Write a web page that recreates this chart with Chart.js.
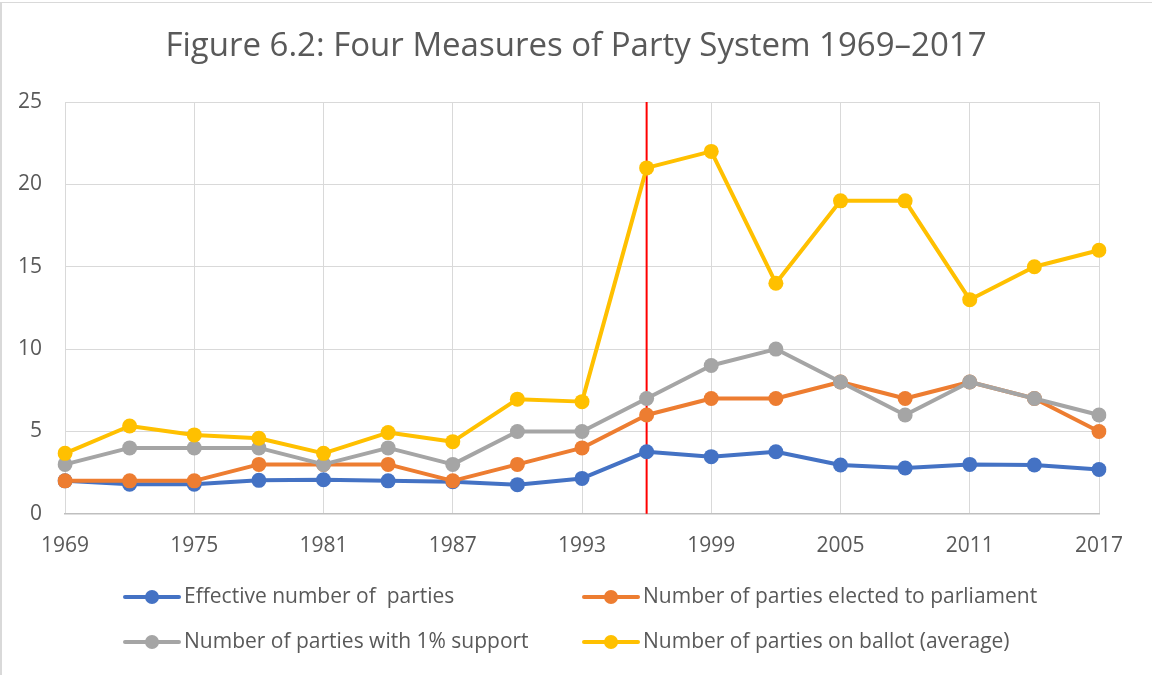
<!DOCTYPE html>
<html>
<head>
<meta charset="utf-8">
<script src="https://cdn.jsdelivr.net/npm/chart.js@4"></script>
<style>
  html, body { margin: 0; padding: 0; background: #fff; }
  #wrap { position: relative; width: 1152px; height: 675px; overflow: hidden; }
  #chart { position: absolute; left: 0; top: 0; }
  .edge-top { position: absolute; left: 0; top: 2px; width: 1152px; height: 1px; background: #d9d9d9; }
  .edge-left { position: absolute; left: 0; top: 2px; width: 2px; height: 673px; background: #d9d9d9; }
</style>
</head>
<body>
<div id="wrap">
  <canvas id="chart" width="1152" height="675"></canvas>
  <div class="edge-top"></div>
  <div class="edge-left"></div>
</div>
<script>
// Election years
const years = ['1969','1972','1975','1978','1981','1984','1987','1990','1993',
               '1996','1999','2002','2005','2008','2011','2014','2017'];

// Four measures of the party system
const effectiveParties = [2.0, 1.8, 1.8, 2.03, 2.07, 2.0, 1.95, 1.77, 2.15,
                          3.77, 3.47, 3.77, 2.96, 2.78, 3.0, 2.96, 2.69];
const electedParties   = [2, 2, 2, 3, 3, 3, 2, 3, 4, 6, 7, 7, 8, 7, 8, 7, 5];
const onePctParties    = [3, 4, 4, 4, 3, 4, 3, 5, 5, 7, 9, 10, 8, 6, 8, 7, 6];
const ballotParties    = [3.67, 5.33, 4.79, 4.59, 3.67, 4.93, 4.38, 6.96, 6.81,
                          21.0, 22.0, 14.0, 19.0, 19.0, 13.0, 15.0, 16.0];

const seriesNames = [
  'Effective number of  parties',
  'Number of parties elected to parliament',
  'Number of parties with 1% support',
  'Number of parties on ballot (average)'
];
const seriesColors = ['#4472C4', '#ED7D31', '#A5A5A5', '#FFC000'];
const seriesValues = [effectiveParties, electedParties, onePctParties, ballotParties];

const yTicks = { min: 0, max: 25, step: 5 };
const dividerYear = '1996';
const chartTitle = 'Figure 6.2: Four Measures of Party System 1969\u20132017';

const TEXT = '#595959';
const FONT = "'Open Sans', 'DejaVu Sans', sans-serif";

// Title centred across the whole canvas
const pageTitlePlugin = {
  id: 'pageTitle',
  afterDraw(chart) {
    const ctx = chart.ctx;
    ctx.save();
    ctx.font = "33px " + FONT;
    ctx.fillStyle = TEXT;
    ctx.textAlign = 'center';
    ctx.textBaseline = 'alphabetic';
    ctx.fillText(chartTitle, chart.width / 2, 56);
    ctx.restore();
  }
};

// Red vertical divider, drawn beneath the series
const dividerPlugin = {
  id: 'divider',
  beforeDatasetsDraw(chart) {
    const x = chart.scales.x.getPixelForValue(years.indexOf(dividerYear));
    const { top, bottom } = chart.chartArea;
    const ctx = chart.ctx;
    ctx.save();
    ctx.strokeStyle = '#FF0000';
    ctx.lineWidth = 2;
    ctx.beginPath();
    ctx.moveTo(x, top);
    ctx.lineTo(x, bottom);
    ctx.stroke();
    ctx.restore();
  }
};

// Two-column legend below the axis
const gridLegendPlugin = {
  id: 'gridLegend',
  afterDraw(chart) {
    const ctx = chart.ctx;
    const colX = [125, 584];
    const rowY = [597, 642];
    ctx.save();
    ctx.font = "21px " + FONT;
    ctx.textBaseline = 'middle';
    ctx.textAlign = 'left';
    chart.data.datasets.forEach((ds, i) => {
      const x0 = colX[i % 2];
      const y = rowY[Math.floor(i / 2)];
      ctx.strokeStyle = ds.borderColor;
      ctx.lineWidth = 4;
      ctx.lineCap = 'round';
      ctx.beginPath();
      ctx.moveTo(x0, y);
      ctx.lineTo(x0 + 54, y);
      ctx.stroke();
      ctx.fillStyle = ds.pointBackgroundColor;
      ctx.beginPath();
      ctx.arc(x0 + 27, y, 7, 0, Math.PI * 2);
      ctx.fill();
      ctx.fillStyle = TEXT;
      ctx.fillText(ds.label, x0 + 59, y);
    });
    ctx.restore();
  }
};

const datasets = seriesValues.map((vals, i) => ({
  label: seriesNames[i],
  data: vals,
  borderColor: seriesColors[i],
  backgroundColor: seriesColors[i],
  pointBackgroundColor: seriesColors[i],
  pointBorderColor: seriesColors[i],
  pointBorderWidth: 0,
  pointRadius: 7.5,
  pointHoverRadius: 7.5,
  borderWidth: 4,
  tension: 0,
  borderJoinStyle: 'round',
  order: seriesValues.length - i
}));

new Chart(document.getElementById('chart'), {
  type: 'line',
  data: { labels: years, datasets },
  plugins: [pageTitlePlugin, dividerPlugin, gridLegendPlugin],
  options: {
    responsive: false,
    animation: false,
    layout: { padding: { left: 18, right: 53, top: 102, bottom: 96 } },
    plugins: {
      legend: { display: false },
      tooltip: { enabled: false },
      title: { display: false }
    },
    scales: {
      x: {
        offset: false,
        grid: {
          drawTicks: false,
          color: (c) => (c.index % 2 === 0 ? '#D9D9D9' : 'rgba(0,0,0,0)'),
          lineWidth: 1
        },
        border: { color: '#BFBFBF', width: 1.5 },
        ticks: {
          autoSkip: false,
          maxRotation: 0,
          padding: 20,
          color: TEXT,
          font: { family: FONT, size: 21 },
          callback: function (v, i) { return i % 2 === 0 ? this.getLabelForValue(v) : ''; }
        }
      },
      y: {
        min: yTicks.min,
        max: yTicks.max,
        afterFit(scale) { scale.width = 47; },
        grid: { drawTicks: false, color: '#D9D9D9', lineWidth: 1 },
        border: { display: false },
        ticks: {
          stepSize: yTicks.step,
          padding: 23,
          color: TEXT,
          font: { family: FONT, size: 21 }
        }
      }
    }
  }
});
</script>
</body>
</html>
